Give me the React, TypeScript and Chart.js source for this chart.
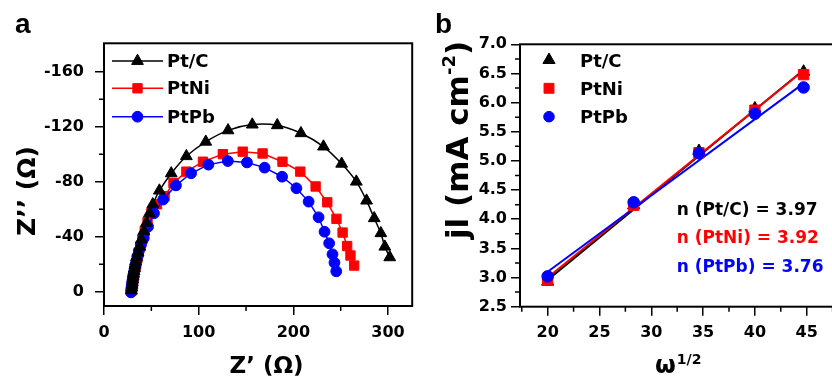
import React, { useEffect, useRef } from "react";
import { Chart, registerables } from "chart.js";
Chart.register(...registerables);

const F = "'DejaVu Sans', 'Liberation Sans', sans-serif";
const FL = "'Liberation Sans', Arial, sans-serif";

// ---------- Panel a: Nyquist plot ----------
const NYQ_X_TICKS = [0, 100, 200, 300];
const NYQ_X_MINOR = [50, 150, 250];
const NYQ_Y_TICKS = [-160, -120, -80, -40, 0];
const NYQ_Y_MINOR = [-140, -100, -60, -20];

const PTC_X = [29, 29.3, 29.7, 30, 30.4, 30.8, 31.2, 31.7, 32.2, 32.8, 33.5, 34.5, 36, 37.8, 39.5, 42, 44.8, 48, 51.5, 58.5, 71, 87, 107.5, 131, 156.6, 183, 208, 231.8, 251, 266.5, 277.3, 285.4, 292.4, 296.6, 301.8];
const PTC_Y = [-1, -3, -5, -7, -9, -11, -13, -15, -17, -19.5, -22, -25, -28.5, -32.7, -38, -44, -50, -57, -63.5, -73.5, -86, -98.5, -109, -117.3, -121.5, -121, -115.2, -105.5, -93, -80, -66.2, -53.4, -42.5, -32.7, -25];

const PTNI_X = [29.5, 29.8, 30.2, 30.6, 31, 31.5, 32, 32.6, 33.3, 34.2, 35.3, 36.8, 38.5, 40.5, 43, 46, 50, 56, 64, 73.4, 87, 104.5, 125.5, 146.5, 167.5, 188.5, 207.3, 223.5, 235.8, 245.5, 252, 256.8, 260.3, 264.2];
const PTNI_Y = [-1, -3, -5, -7, -9, -11, -13, -15.5, -18, -21, -24.5, -28.5, -33, -38, -44, -50.5, -57, -63.5, -69.5, -79, -87.3, -94.5, -100, -101.8, -100.5, -94.5, -87.3, -76.5, -65, -53, -43, -33.2, -26.3, -19];

const PTPB_X = [28.5, 28.8, 29.2, 29.6, 30, 30.5, 31, 31.6, 32.3, 33, 34, 35.2, 36.8, 39, 42, 46.5, 52.8, 62.5, 76, 92, 110.3, 130.8, 151, 169.6, 188.1, 203.2, 216.1, 226.6, 232.9, 237.8, 241.3, 243.4, 245.3];
const PTPB_Y = [0.5, -2, -4, -6, -8, -10, -12, -14, -16.5, -19, -22, -25.5, -29.5, -34, -39, -47.3, -57, -67, -77.3, -86.1, -92.4, -95, -94, -90.2, -83.6, -75.2, -65.5, -54.1, -43.6, -35.2, -27.2, -21.1, -14.8];

// ---------- Panel b: Koutecky-Levich ----------
const KL_X_TICKS = [20, 25, 30, 35, 40, 45];
const KL_X_MINOR = [17.5, 22.5, 27.5, 32.5, 37.5, 42.5, 47.5];
const KL_Y_TICKS = [2.5, 3.0, 3.5, 4.0, 4.5, 5.0, 5.5, 6.0, 6.5, 7.0];
const KL_Y_MINOR = [2.75, 3.25, 3.75, 4.25, 4.75, 5.25, 5.75, 6.25, 6.75];

const OMEGA = [20, 28.3, 34.6, 40, 44.7];
const KL_PTC = [2.93, 4.24, 5.17, 5.9, 6.53];
const KL_PTNI = [2.96, 4.24, 5.14, 5.87, 6.48];
const KL_PTPB = [3.02, 4.29, 5.13, 5.81, 6.26];

const FIT_X = [20, 44.7];
const FIT_PTC = [2.96, 6.56];
const FIT_PTNI = [3.0, 6.55];
const FIT_PTPB = [3.1, 6.33];

const SERIES = ["Pt/C", "PtNi", "PtPb"];
const N_LABELS = ["n (Pt/C) = 3.97", "n (PtNi) = 3.92", "n (PtPb) = 3.76"];
const COLORS = ["#000000", "#ff0000", "#0000ff"];
const STYLES = ["triangle", "rect", "circle"];

const pts = (xs: number[], ys: number[]) => xs.map((x, i) => ({ x, y: ys[i] }));

function marker(ctx: CanvasRenderingContext2D, style: string, x: number, y: number, r: number, color: string) {
  ctx.save();
  ctx.fillStyle = color;
  ctx.strokeStyle = color;
  ctx.lineWidth = 1;
  ctx.beginPath();
  if (style === "triangle") {
    for (let i = 0; i < 3; i++) {
      const a = (i * 2 * Math.PI) / 3;
      const px = x + Math.sin(a) * r;
      const py = y - Math.cos(a) * r;
      if (i === 0) ctx.moveTo(px, py);
      else ctx.lineTo(px, py);
    }
    ctx.closePath();
  } else if (style === "rect") {
    const s = Math.SQRT1_2 * r;
    ctx.rect(x - s, y - s, 2 * s, 2 * s);
  } else {
    ctx.arc(x, y, r, 0, Math.PI * 2);
  }
  ctx.fill();
  ctx.stroke();
  ctx.restore();
}

type Part = { t: string; size: number; dy: number };
function rich(ctx: CanvasRenderingContext2D, parts: Part[], x: number, y: number, rot: number, color = "#000") {
  ctx.save();
  ctx.translate(x, y);
  if (rot) ctx.rotate(rot);
  ctx.fillStyle = color;
  ctx.textBaseline = "alphabetic";
  ctx.textAlign = "left";
  let total = 0;
  const widths = parts.map((p) => {
    ctx.font = `bold ${p.size}px ${F}`;
    const w = ctx.measureText(p.t).width;
    total += w;
    return w;
  });
  let cx = -total / 2;
  parts.forEach((p, i) => {
    ctx.font = `bold ${p.size}px ${F}`;
    ctx.fillText(p.t, cx, p.dy);
    cx += widths[i];
  });
  ctx.restore();
}

function text(ctx: CanvasRenderingContext2D, s: string, x: number, y: number, font: string, color = "#000") {
  ctx.save();
  ctx.font = font;
  ctx.fillStyle = color;
  ctx.textAlign = "left";
  ctx.textBaseline = "alphabetic";
  ctx.fillText(s, x, y);
  ctx.restore();
}

function frameAndMinor(chart: any, xs: number[], ys: number[]) {
  const ctx: CanvasRenderingContext2D = chart.ctx;
  const { left, right, top, bottom } = chart.chartArea;
  const sx = chart.scales.x;
  const sy = chart.scales.y;
  ctx.save();
  ctx.strokeStyle = "#000";
  ctx.lineWidth = 1.5;
  ctx.beginPath();
  xs.forEach((v) => {
    const p = sx.getPixelForValue(v);
    if (p >= left - 0.5 && p <= right + 0.5) {
      ctx.moveTo(p, bottom);
      ctx.lineTo(p, bottom + 5);
    }
  });
  ys.forEach((v) => {
    const p = sy.getPixelForValue(v);
    if (p >= top - 0.5 && p <= bottom + 0.5) {
      ctx.moveTo(left, p);
      ctx.lineTo(left - 5, p);
    }
  });
  ctx.stroke();
  ctx.lineWidth = 2;
  ctx.strokeRect(left, top, right - left, bottom - top);
  ctx.restore();
}

const tickFont = { family: F, size: 16, weight: "bold" as const };

function axisOpts(ticksArr: number[], fmt: (v: number) => string, fit: (s: any) => void, pad: number, extra: any) {
  return {
    type: "linear",
    ...extra,
    afterBuildTicks: (s: any) => {
      s.ticks = ticksArr.map((v) => ({ value: v }));
    },
    afterFit: fit,
    grid: { display: true, drawOnChartArea: false, drawTicks: true, tickLength: 9, color: "#000", lineWidth: 1.5 },
    border: { display: false },
    ticks: { font: tickFont, color: "#000", padding: pad, maxRotation: 0, autoSkip: false, callback: (v: any) => fmt(Number(v)) },
  };
}

export default function App() {
  const leftRef = useRef<HTMLCanvasElement>(null);
  const rightRef = useRef<HTMLCanvasElement>(null);

  useEffect(() => {
    const leftDecor = {
      id: "leftDecor",
      afterDraw(chart: any) {
        const ctx: CanvasRenderingContext2D = chart.ctx;
        frameAndMinor(chart, NYQ_X_MINOR, NYQ_Y_MINOR);
        text(ctx, "a", 15, 33, `bold 28px ${FL}`);
        const ly = [61, 88.3, 116.7];
        const lr = [6.8, 6.6, 5.4];
        SERIES.forEach((s, i) => {
          ctx.save();
          ctx.strokeStyle = COLORS[i];
          ctx.lineWidth = 1.5;
          ctx.beginPath();
          ctx.moveTo(112, ly[i]);
          ctx.lineTo(163, ly[i]);
          ctx.stroke();
          ctx.restore();
          marker(ctx, STYLES[i], 137.5, ly[i], lr[i], COLORS[i]);
          text(ctx, s, 167, ly[i] + 6, `bold 18px ${F}`);
        });
        rich(ctx, [{ t: "Z\u2019 (\u03A9)", size: 23, dy: 0 }], 266.5, 373, 0);
        rich(ctx, [{ t: "Z\u2019\u2019 (\u03A9)", size: 25, dy: 0 }], 35, 191, -Math.PI / 2);
      },
    };

    const rightDecor = {
      id: "rightDecor",
      afterDraw(chart: any) {
        const ctx: CanvasRenderingContext2D = chart.ctx;
        frameAndMinor(chart, KL_X_MINOR, KL_Y_MINOR);
        text(ctx, "b", 15, 33, `bold 28px ${FL}`);
        const ly = [60, 88.3, 116.7];
        const lr = [7, 7, 5.3];
        SERIES.forEach((s, i) => {
          marker(ctx, STYLES[i], 129, ly[i], lr[i], COLORS[i]);
          text(ctx, s, 160, ly[i] + 6.5, `bold 18px ${F}`);
        });
        const ny = [215, 243.3, 271.7];
        N_LABELS.forEach((s, i) => text(ctx, s, 256.7, ny[i], `bold 17px ${F}`, COLORS[i]));
        // x title omega^(1/2)
        ctx.save();
        ctx.font = `bold 24px ${F}`;
        ctx.fillStyle = "#000";
        ctx.fillText("\u03C9", 235, 373.3);
        const w = ctx.measureText("\u03C9").width;
        ctx.font = `bold 14px ${F}`;
        ctx.fillText("1/2", 235 + w + 1, 364);
        ctx.restore();
        rich(
          ctx,
          [
            { t: "jl (mA cm", size: 31, dy: 0 },
            { t: "-2", size: 18, dy: -13 },
            { t: ")", size: 31, dy: 0 },
          ],
          48,
          140,
          -Math.PI / 2
        );
      },
    };

    const left = new Chart(leftRef.current as HTMLCanvasElement, {
      type: "line",
      data: {
        datasets: [
          {
            label: "Pt/C",
            data: pts(PTC_X, PTC_Y),
            borderColor: COLORS[0],
            backgroundColor: COLORS[0],
            pointStyle: "triangle",
            pointRadius: 6.8,
            pointBorderWidth: 1,
            borderWidth: 1.5,
            tension: 0.3,
            order: 0,
          },
          {
            label: "PtPb",
            data: pts(PTPB_X, PTPB_Y),
            borderColor: COLORS[2],
            backgroundColor: COLORS[2],
            pointStyle: "circle",
            pointRadius: 5.4,
            pointBorderWidth: 1,
            borderWidth: 1.5,
            tension: 0,
            order: 1,
          },
          {
            label: "PtNi",
            data: pts(PTNI_X, PTNI_Y),
            borderColor: COLORS[1],
            backgroundColor: COLORS[1],
            pointStyle: "rect",
            pointRadius: 6.6,
            pointBorderWidth: 1,
            borderWidth: 1.5,
            tension: 0,
            order: 2,
          },
        ],
      } as any,
      options: {
        animation: false,
        responsive: false,
        devicePixelRatio: 1,
        events: [],
        layout: { padding: { left: 0, right: 5.7, top: 43.3, bottom: 0 } },
        plugins: { legend: { display: false }, tooltip: { enabled: false } },
        scales: {
          x: axisOpts(NYQ_X_TICKS, (v) => String(v), (s: any) => { s.height = 79; }, 8, { min: 0, max: 325.5 }),
          y: axisOpts(NYQ_Y_TICKS, (v) => String(v), (s: any) => { s.width = 104; }, 11, { min: -180.6, max: 10.4, reverse: true }),
        },
      } as any,
      plugins: [leftDecor],
    });

    const pointDs = (label: string, ys: number[], i: number, r: number, order: number) => ({
      label,
      data: pts(OMEGA, ys),
      showLine: false,
      borderColor: COLORS[i],
      backgroundColor: COLORS[i],
      pointStyle: STYLES[i],
      pointRadius: r,
      pointBorderWidth: 1,
      order,
    });
    const fitDs = (label: string, ys: number[], i: number, order: number) => ({
      label,
      data: pts(FIT_X, ys),
      borderColor: COLORS[i],
      backgroundColor: COLORS[i],
      borderWidth: 2,
      pointRadius: 0,
      order,
    });

    const right = new Chart(rightRef.current as HTMLCanvasElement, {
      type: "line",
      data: {
        datasets: [
          pointDs("PtPb", KL_PTPB, 2, 5.8, 0),
          pointDs("PtNi", KL_PTNI, 1, 7.3, 1),
          pointDs("Pt/C", KL_PTC, 0, 7, 2),
          fitDs("PtPb fit", FIT_PTPB, 2, 3),
          fitDs("PtNi fit", FIT_PTNI, 1, 4),
          fitDs("Pt/C fit", FIT_PTC, 0, 5),
        ],
      } as any,
      options: {
        animation: false,
        responsive: false,
        devicePixelRatio: 1,
        events: [],
        layout: { padding: { left: 0, right: 12, top: 44.3, bottom: 0 } },
        plugins: { legend: { display: false }, tooltip: { enabled: false } },
        scales: {
          x: axisOpts(KL_X_TICKS, (v) => String(v), (s: any) => { s.height = 78.3; }, 8, { min: 17.33, max: 48.02 }),
          y: axisOpts(KL_Y_TICKS, (v) => v.toFixed(1), (s: any) => { s.width = 100; }, 4, { min: 2.5, max: 7.0 }),
        },
      } as any,
      plugins: [rightDecor],
    });

    return () => {
      left.destroy();
      right.destroy();
    };
  }, []);

  return (
    <div style={{ position: "fixed", left: 0, top: 0, width: 832, height: 385, overflow: "hidden", background: "#fff" }}>
      <canvas ref={leftRef} width={420} height={385} style={{ position: "absolute", left: 0, top: 0, width: 420, height: 385 }} />
      <canvas ref={rightRef} width={430} height={385} style={{ position: "absolute", left: 420, top: 0, width: 430, height: 385 }} />
    </div>
  );
}
